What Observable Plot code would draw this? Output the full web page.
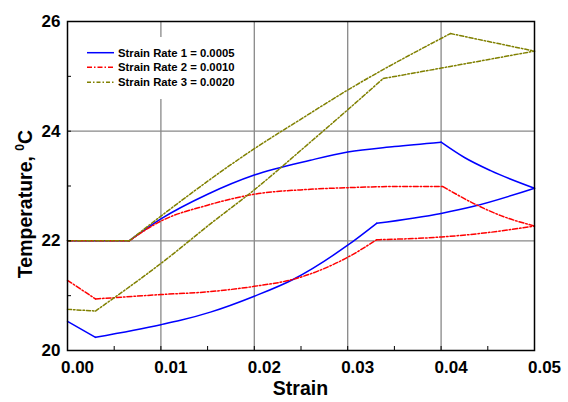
<!DOCTYPE html>
<html>
<head>
<meta charset="utf-8">
<script src="https://cdn.jsdelivr.net/npm/d3@7"></script>
<script src="https://cdn.jsdelivr.net/npm/@observablehq/plot@0.6"></script>
<style>
  html, body { margin: 0; padding: 0; background: #fff; }
  #chart { width: 568px; height: 402px; }
</style>
</head>
<body>
<div id="chart"></div>
<script>
// ---- data ----
const seriesNames = ["Strain Rate 1 = 0.0005", "Strain Rate 2 = 0.0010", "Strain Rate 3 = 0.0020"];
const seriesColors = ["#0000ff", "#ff0000", "#808000"];

// each series is a loop; segment ids mark the smooth pieces between corners
const strain1 = [0, 0.003, 0.003, 0.01, 0.0121, 0.0153, 0.02, 0.0242, 0.03, 0.0331, 0.0331, 0.04, 0.0435, 0.05, 0.04, 0.0425, 0.0453, 0.05, 0.0066, 0.01, 0.015, 0.02, 0.026, 0.03, 0.035, 0.04, 0, 0.0066];
const temp1   = [20.53, 20.24, 20.24, 20.47, 20.55, 20.70, 20.99, 21.30, 21.92, 22.32, 22.32, 22.50, 22.63, 22.96, 23.80, 23.52, 23.28, 22.96, 22.00, 22.40, 22.85, 23.20, 23.47, 23.62, 23.72, 23.80, 22.00, 22.00];
const seg1    = [0, 0, 1, 1, 1, 1, 1, 1, 1, 1, 2, 2, 2, 2, 3, 3, 3, 3, 4, 4, 4, 4, 4, 4, 4, 4, 5, 5];

const strain2 = [0, 0.003, 0.003, 0.01, 0.015, 0.02, 0.0242, 0.03, 0.0331, 0.0331, 0.04, 0.045, 0.05, 0.0402, 0.0435, 0.0464, 0.05, 0.0066, 0.01, 0.015, 0.02, 0.026, 0.03, 0.035, 0.0402, 0, 0.0066];
const temp2   = [21.28, 20.94, 20.94, 21.02, 21.07, 21.17, 21.30, 21.70, 22.02, 22.02, 22.07, 22.15, 22.27, 22.99, 22.68, 22.46, 22.27, 22.00, 22.36, 22.65, 22.85, 22.94, 22.97, 22.99, 22.99, 22.00, 22.00];
const seg2    = [0, 0, 1, 1, 1, 1, 1, 1, 1, 2, 2, 2, 2, 3, 3, 3, 3, 4, 4, 4, 4, 4, 4, 4, 4, 5, 5];

const strain3 = [0, 0.003, 0.003, 0.0104, 0.0153, 0.02, 0.026, 0.03, 0.0338, 0.0338, 0.04, 0.05, 0.041, 0.05, 0.0066, 0.01, 0.02, 0.025, 0.03, 0.041, 0, 0.0066];
const temp3   = [20.75, 20.72, 20.72, 21.64, 22.31, 22.93, 23.80, 24.39, 24.96, 24.96, 25.15, 25.46, 25.78, 25.46, 22.00, 22.45, 23.68, 24.22, 24.75, 25.78, 22.00, 22.00];
const seg3    = [0, 0, 1, 1, 1, 1, 1, 1, 1, 2, 2, 2, 3, 3, 4, 4, 4, 4, 4, 4, 5, 5];

const xMajorTicks = [0, 0.01, 0.02, 0.03, 0.04, 0.05];
const xMinorTicks = [0.005, 0.015, 0.025, 0.035, 0.045];
const yMajorTicks = [20, 22, 24, 26];
const yMinorTicks = [21, 23, 25];
const xGrid = [0.01, 0.02, 0.03, 0.04];
const yGrid = [22, 24];

const toRows = (s, t, g) => s.map((v, i) => ({strain: v, temp: t[i], seg: g[i]}));
const rows1 = toRows(strain1, temp1, seg1);
const rows2 = toRows(strain2, temp2, seg2);
const rows3 = toRows(strain3, temp3, seg3);

const FONT = "Liberation Sans, Arial, Helvetica, sans-serif";
const dashes = [null, "5,2,1.5,2", "4,2,1.5,2"];

const chart = Plot.plot({
  width: 568,
  height: 402,
  marginLeft: 67,
  marginRight: 34,
  marginTop: 21,
  marginBottom: 52,
  style: {fontFamily: FONT, background: "#fff", color: "#000"},
  x: {domain: [0, 0.05]},
  y: {domain: [20, 26]},
  marks: [
    Plot.gridX(xGrid, {stroke: "#888", strokeOpacity: 1, strokeWidth: 1.3}),
    Plot.gridY(yGrid, {stroke: "#888", strokeOpacity: 1, strokeWidth: 1.3}),
    Plot.line(rows1, {x: "strain", y: "temp", z: "seg", curve: "monotone-x", stroke: seriesColors[0], strokeWidth: 1.5}),
    Plot.line(rows2, {x: "strain", y: "temp", z: "seg", curve: "monotone-x", stroke: seriesColors[1], strokeWidth: 1.5, strokeDasharray: dashes[1]}),
    Plot.line(rows3, {x: "strain", y: "temp", z: "seg", curve: "monotone-x", stroke: seriesColors[2], strokeWidth: 1.5, strokeDasharray: dashes[2]}),
    // tick labels
    Plot.axisX(xMajorTicks, {tickSize: 0, tickPadding: 10, dx: 10, tickFormat: d => d.toFixed(2), fontSize: 17, fontWeight: "bold", label: null}),
    Plot.axisY(yMajorTicks, {tickSize: 0, tickPadding: 7, tickFormat: d => String(d), fontSize: 17, fontWeight: "bold", label: null}),
    // inward tick marks
    Plot.axisX(xMinorTicks.concat(xMajorTicks), {tickSize: -4, fill: "none", label: null, stroke: "#000"}),
    Plot.axisY(yMinorTicks.concat(yMajorTicks), {tickSize: -4, fill: "none", label: null, stroke: "#000"}),
    Plot.frame({stroke: "#000", strokeWidth: 1.5})
  ]
});

document.getElementById("chart").appendChild(chart);

// ---- titles and legend ----
const svg = d3.select(chart);

svg.append("text")
  .attr("x", 300.5).attr("y", 395)
  .attr("text-anchor", "middle")
  .attr("font-family", FONT).attr("font-weight", "bold").attr("font-size", 19.5)
  .attr("fill", "#000")
  .text("Strain");

const yt = svg.append("text")
  .attr("transform", "translate(32,204) rotate(-90)")
  .attr("text-anchor", "middle")
  .attr("font-family", FONT).attr("font-weight", "bold").attr("font-size", 19.5)
  .attr("fill", "#000");
yt.append("tspan").text("Temperature, ");
yt.append("tspan").attr("font-size", 12).attr("dy", -8).text("0");
yt.append("tspan").attr("dy", 8).text("C");

const leg = svg.append("g").attr("text-anchor", "start");
leg.append("rect")
  .attr("x", 72).attr("y", 37).attr("width", 174).attr("height", 62)
  .style("fill", "#ffffff").style("stroke", "none");
const rowY = [52.7, 67.3, 82.3];
seriesNames.forEach((name, i) => {
  leg.append("line")
    .attr("x1", 87).attr("x2", 114).attr("y1", rowY[i]).attr("y2", rowY[i])
    .style("stroke", seriesColors[i]).style("stroke-width", 1.5)
    .style("stroke-dasharray", dashes[i] || "none");
  leg.append("text")
    .attr("x", 118).attr("y", rowY[i] + 4)
    .attr("text-anchor", "start")
    .attr("font-family", FONT).attr("font-weight", "bold").attr("font-size", 11.3)
    .style("fill", "#000")
    .text(name);
});
</script>
</body>
</html>
